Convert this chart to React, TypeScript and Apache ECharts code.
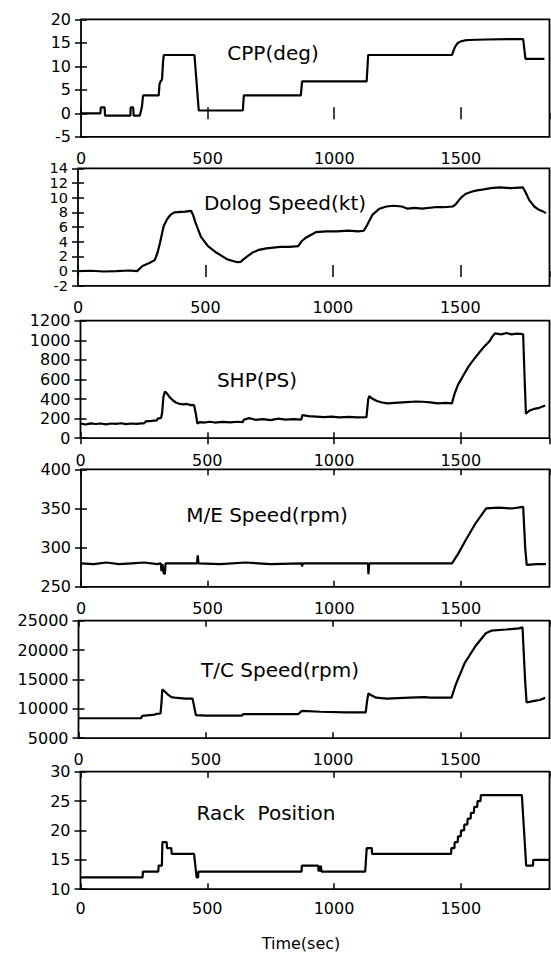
import React, { useEffect, useRef } from "react";
import * as echarts from "echarts";

const timeTicks = [0, 500, 1000, 1500];
const timeMax = 1850;

const cppDeg = [
  [0, 0], [77, 0], [78, 1.25], [93, 1.25], [95, -0.5], [195, -0.5], [196, 1.25], [206, 1.25], [208, -0.5],
  [232, -0.5], [238, 0.8], [241, 1.5], [245, 3.8], [307, 3.8], [310, 6.2], [314, 6.8], [320, 7.2], [324, 11],
  [327, 12.4], [448, 12.4], [465, 0.6], [639, 0.6], [643, 3.8], [868, 3.8], [873, 6.8], [1128, 6.8],
  [1134, 12.4], [1465, 12.4], [1472, 13.5], [1480, 14.4], [1489, 15], [1500, 15.3], [1515, 15.5], [1531, 15.6],
  [1600, 15.7], [1700, 15.8], [1746, 15.8], [1755, 11.6], [1830, 11.6],
];

const dologSpeed = [
  [0, 0], [50, 0.05], [100, -0.05], [150, 0], [200, 0.08], [232, 0], [253, 0.7], [280, 1.1], [301, 1.5],
  [312, 2.5], [322, 3.9], [336, 6.1], [350, 7.1], [364, 7.7], [378, 8.0], [420, 8.1], [444, 8.2], [452, 7.6],
  [461, 6.6], [482, 4.7], [510, 3.4], [544, 2.5], [586, 1.6], [615, 1.3], [628, 1.2], [640, 1.3], [649, 1.6],
  [683, 2.5], [710, 2.9], [739, 3.1], [794, 3.3], [830, 3.3], [864, 3.4], [878, 4.1], [892, 4.5], [933, 5.3],
  [975, 5.4], [1017, 5.4], [1060, 5.5], [1100, 5.4], [1121, 5.5], [1135, 6.3], [1156, 7.7], [1183, 8.5],
  [1210, 8.8], [1239, 8.9], [1270, 8.8], [1294, 8.5], [1320, 8.6], [1350, 8.5], [1400, 8.7], [1433, 8.7],
  [1470, 8.8], [1482, 9.1], [1503, 10.0], [1520, 10.5], [1544, 10.8], [1565, 11.0], [1586, 11.1], [1620, 11.3],
  [1656, 11.4], [1700, 11.3], [1746, 11.4], [1758, 10.6], [1770, 9.7], [1790, 8.8], [1806, 8.4], [1820, 8.2],
  [1836, 7.9],
];

const shpPs = [
  [0, 150], [20, 140], [40, 152], [60, 145], [80, 150], [100, 142], [120, 150], [140, 146], [160, 153],
  [180, 144], [200, 150], [220, 146], [240, 152], [250, 150], [258, 172], [280, 176], [301, 182], [305, 200],
  [318, 208], [322, 260], [327, 420], [333, 476], [340, 460], [350, 424], [365, 385], [378, 362], [392, 350],
  [406, 345], [420, 350], [435, 338], [448, 338], [455, 250], [461, 148], [470, 165], [490, 160], [510, 168],
  [530, 160], [560, 166], [590, 162], [620, 168], [640, 165], [645, 190], [665, 205], [690, 188], [720, 195],
  [750, 185], [780, 200], [810, 190], [840, 195], [871, 190], [875, 235], [900, 225], [930, 220], [960, 215],
  [990, 220], [1020, 212], [1060, 218], [1090, 212], [1128, 215], [1135, 400], [1139, 430], [1150, 405],
  [1169, 380], [1190, 365], [1211, 355], [1240, 360], [1270, 365], [1300, 370], [1320, 375], [1350, 372],
  [1380, 365], [1410, 355], [1440, 360], [1465, 355], [1475, 450], [1489, 545], [1510, 640], [1531, 734],
  [1550, 800], [1572, 872], [1594, 940], [1614, 993], [1625, 1040], [1635, 1070], [1660, 1060], [1680, 1075],
  [1700, 1060], [1720, 1068], [1746, 1062], [1752, 600], [1757, 250], [1770, 280], [1790, 300], [1810, 310],
  [1833, 335],
];

const meSpeed = [
  [0, 280], [50, 279], [100, 281], [150, 279], [200, 280], [250, 281], [300, 279], [315, 280], [318, 270],
  [322, 279], [326, 268], [331, 266], [334, 280], [400, 280], [458, 280], [461, 290], [464, 280], [550, 279],
  [650, 281], [750, 279], [871, 280], [873, 276], [876, 280], [1000, 280], [1133, 280], [1135, 266],
  [1138, 280], [1300, 280], [1465, 280], [1489, 292], [1520, 310], [1560, 332], [1600, 350], [1650, 351],
  [1700, 350], [1746, 352], [1754, 300], [1760, 278], [1800, 279], [1836, 279],
];

const tcSpeed = [
  [0, 8400], [246, 8400], [250, 8800], [300, 9000], [305, 9150], [322, 9200], [326, 11000], [329, 13300],
  [340, 12900], [350, 12470], [365, 12000], [378, 11900], [420, 11750], [448, 11740], [456, 10000],
  [461, 8930], [500, 8850], [600, 8850], [642, 8850], [648, 9100], [864, 9100], [870, 9400], [878, 9660],
  [950, 9500], [1050, 9400], [1128, 9400], [1134, 11500], [1139, 12640], [1150, 12300], [1169, 11900],
  [1211, 11740], [1300, 11900], [1360, 12000], [1380, 11900], [1465, 11900], [1482, 14160], [1517, 17800],
  [1558, 20600], [1600, 22860], [1621, 23300], [1680, 23500], [1730, 23700], [1744, 23870], [1754, 15000],
  [1760, 11070], [1790, 11350], [1812, 11500], [1833, 11900],
];

const rackPos = [
  [0, 12], [245, 12], [246, 13], [307, 13], [308, 14], [321, 14], [323, 18], [340, 18], [341, 17], [358, 17],
  [360, 16], [448, 16], [458, 12], [464, 12], [465, 13], [872, 13], [873, 14], [938, 14], [939, 13], [942, 14],
  [945, 13], [948, 14], [951, 13], [1123, 13], [1129, 17], [1149, 17], [1150, 16], [1462, 16], [1463, 17],
  [1475, 17], [1476, 18], [1488, 18], [1489, 19], [1500, 19], [1501, 20], [1513, 20], [1514, 21], [1526, 21],
  [1527, 22], [1539, 22], [1540, 23], [1552, 23], [1553, 24], [1565, 24], [1566, 25], [1578, 25], [1579, 26],
  [1741, 26], [1758, 14], [1785, 14], [1786, 15], [1850, 15],
];

const panelTitles = ["CPP(deg)", "Dolog Speed(kt)", "SHP(PS)", "M/E Speed(rpm)", "T/C Speed(rpm)", "Rack  Position"];
const panelSeries = [cppDeg, dologSpeed, shpPs, meSpeed, tcSpeed, rackPos];
const yMins = [-5, -2, 0, 250, 5000, 10];
const yMaxs = [20, 14, 1200, 400, 25000, 30];
const yIntervals = [5, 2, 200, 50, 5000, 5];
// panel 2 has crowded labels: split them over two label layers
const dologLabelsA = [-2, 2, 6, 10, 14];
const dologLabelsB = [0, 4, 8, 12];
const xLabel = "Time(sec)";

// layout (pixels)
const gridTops = [19.3, 168.3, 320.7, 469.3, 620.7, 771.7];
const gridHeight = 117.5;
const gridLefts = [81, 78, 80.5, 81, 78.5, 80.5];
const gridRightEdge = 549.5;
const xLabelMargins = [14, 14, 14, 14, 13, 11];
const yLabelSizes = [16, 14.5, 16, 16, 16, 16];
const titlePos = [
  [273, 53], [285, 203], [257, 380], [267, 515], [280, 670], [266, 813],
];

const FONT = "DejaVu Sans";

export default function App() {
  const ref = useRef<HTMLDivElement>(null);
  useEffect(() => {
    if (!ref.current) return;
    const chart = echarts.init(ref.current, undefined, { renderer: "svg" });
    const grids: any[] = [];
    const xAxes: any[] = [];
    const yAxes: any[] = [];
    const series: any[] = [];
    const graphics: any[] = [];
    const tickStyle = { color: "#000", width: 1.5 };
    panelSeries.forEach((data, i) => {
      grids.push({
        left: gridLefts[i],
        top: gridTops[i],
        width: gridRightEdge - gridLefts[i],
        height: gridHeight,
        show: true,
        borderColor: "#000",
        borderWidth: 1.8,
        backgroundColor: "transparent",
      });
      const xBase = {
        gridIndex: i,
        type: "value",
        min: 0,
        max: timeMax,
        interval: 500,
        splitLine: { show: false },
        axisLine: { show: false },
        axisTick: { show: true, inside: true, length: 6, lineStyle: tickStyle },
      };
      xAxes.push({
        ...xBase,
        position: "bottom",
        axisLabel: {
          show: true,
          margin: xLabelMargins[i],
          color: "#000",
          fontSize: 16,
          fontFamily: FONT,
          showMaxLabel: false,
          formatter: (v: number) => (timeTicks.includes(v) ? String(v) : ""),
        },
      });
      xAxes.push({ ...xBase, position: "top", axisLabel: { show: false } });
      const yBase = {
        gridIndex: i,
        type: "value",
        min: yMins[i],
        max: yMaxs[i],
        interval: yIntervals[i],
        splitLine: { show: false },
        axisLine: { show: false },
        axisTick: { show: true, inside: true, length: 6, lineStyle: tickStyle },
      };
      yAxes.push({
        ...yBase,
        position: "left",
        axisLabel: {
          show: true,
          margin: 10,
          color: "#000",
          fontSize: yLabelSizes[i],
          fontFamily: FONT,
          showMinLabel: true,
          showMaxLabel: true,
          formatter: (v: number) =>
            i === 1 ? (dologLabelsA.includes(v) ? String(v) : "") : String(v),
        },
      });
      yAxes.push({ ...yBase, position: "right", axisLabel: { show: false } });
      series.push({
        type: "line",
        xAxisIndex: 2 * i,
        yAxisIndex: 2 * i,
        data,
        showSymbol: false,
        symbol: "none",
        lineStyle: { color: "#000", width: 2.2 },
        silent: true,
      });
      graphics.push({
        type: "text",
        x: titlePos[i][0],
        y: titlePos[i][1],
        style: {
          text: panelTitles[i],
          font: `20px "${FONT}"`,
          fill: "#000",
          textAlign: "center",
          textVerticalAlign: "middle",
        },
      });
    });
    // overlay grid carrying the second layer of panel-2 tick labels
    grids.push({
      left: gridLefts[1],
      top: gridTops[1],
      width: gridRightEdge - gridLefts[1],
      height: gridHeight,
      show: false,
    });
    xAxes.push({ gridIndex: 6, type: "value", min: 0, max: timeMax, show: false });
    yAxes.push({
      gridIndex: 6,
      type: "value",
      position: "left",
      min: yMins[1],
      max: yMaxs[1],
      interval: yIntervals[1],
      splitLine: { show: false },
      axisLine: { show: false },
      axisTick: { show: false },
      axisLabel: {
        show: true,
        margin: 10,
        color: "#000",
        fontSize: yLabelSizes[1],
        fontFamily: FONT,
        showMinLabel: true,
        showMaxLabel: true,
        formatter: (v: number) => (dologLabelsB.includes(v) ? String(v) : ""),
      },
    });
    graphics.push({
      type: "text",
      x: 301,
      y: 943,
      style: {
        text: xLabel,
        font: `16px "${FONT}"`,
        fill: "#000",
        textAlign: "center",
        textVerticalAlign: "middle",
      },
    });
    chart.setOption({
      animation: false,
      backgroundColor: "#fff",
      grid: grids,
      xAxis: xAxes,
      yAxis: yAxes,
      series,
      graphic: graphics,
    });
    return () => chart.dispose();
  }, []);
  return (
    <div
      ref={ref}
      style={{ position: "fixed", left: 0, top: 0, width: 551, height: 953, background: "#fff" }}
    />
  );
}
